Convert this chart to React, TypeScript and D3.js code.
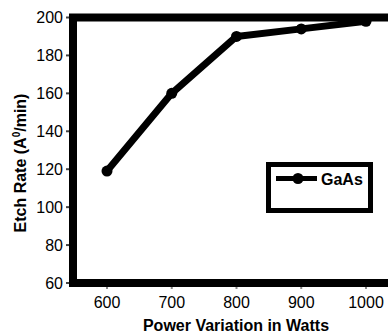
import React from "react";
import * as d3 from "d3";

const powers = [600, 700, 800, 900, 1000];
const etchRates = [119, 160, 190, 194, 198];
const xTicks = [600, 700, 800, 900, 1000];
const yTicks = [60, 80, 100, 120, 140, 160, 180, 200];
const seriesName = "GaAs";
const xTitle = "Power Variation in Watts";

export default function App() {
  const W = 388, H = 333;
  const x = d3.scaleLinear().domain([600, 1000]).range([107, 366]);
  const y = d3.scaleLinear().domain([60, 200]).range([283, 17.5]);
  const line = d3.line<number>().x((_, i) => x(powers[i])).y((d) => y(d));
  const font = "Arial, 'Liberation Sans', sans-serif";
  const frameRight = x(1070);
  return (
    <svg width={W} height={H} style={{ position: "absolute", left: 0, top: 0, background: "#fff" }} fontFamily={font}>
      {/* ticks */}
      {yTicks.map((t) => (
        <g key={"y" + t}>
          <line x1={66} x2={73} y1={y(t)} y2={y(t)} stroke="#444" strokeWidth={2} />
          <text x={63} y={y(t)} dy="0.36em" textAnchor="end" fontSize={16}>{t}</text>
        </g>
      ))}
      {xTicks.map((t) => (
        <g key={"x" + t}>
          <line x1={x(t)} x2={x(t)} y1={283} y2={289} stroke="#888" strokeWidth={2} />
          <text x={x(t)} y={308} textAnchor="middle" fontSize={16}>{t}</text>
        </g>
      ))}
      {/* frame */}
      <path d={`M${frameRight},17.5 H73 V283 H${frameRight}`} fill="none" stroke="#000" strokeWidth={8} />
      {/* series */}
      <path d={line(etchRates) || ""} fill="none" stroke="#000" strokeWidth={7} strokeLinejoin="round" />
      {etchRates.map((v, i) => (
        <circle key={i} cx={x(powers[i])} cy={y(v)} r={5.5} fill="#000" />
      ))}
      {/* legend */}
      <rect x={268.5} y={164.5} width={102} height={46} fill="#fff" stroke="#000" strokeWidth={5} />
      <line x1={276} x2={317} y1={178.5} y2={178.5} stroke="#000" strokeWidth={5} />
      <circle cx={298} cy={178.5} r={5.5} fill="#000" />
      <text x={321} y={184.5} fontSize={16} fontWeight="bold">{seriesName}</text>
      {/* titles */}
      <text transform={`translate(25.5,163) rotate(-90)`} textAnchor="middle" fontSize={16} fontWeight="bold">
        Etch Rate (A<tspan dy={-6} fontSize={10}>0</tspan><tspan dy={6}>/min)</tspan>
      </text>
      <text x={236} y={331} textAnchor="middle" fontSize={16} fontWeight="bold">{xTitle}</text>
    </svg>
  );
}
